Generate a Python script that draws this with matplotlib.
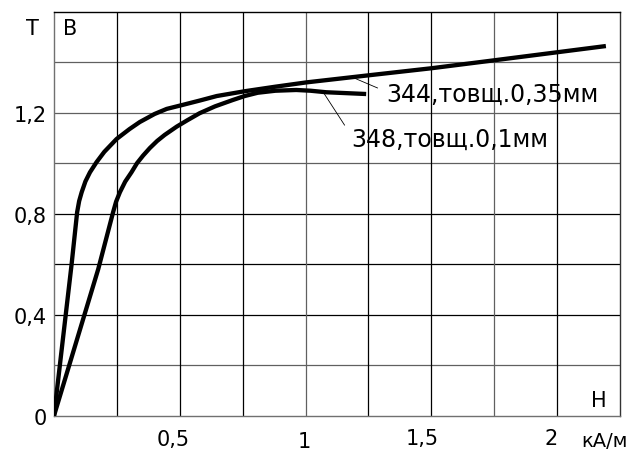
import matplotlib
matplotlib.use("Agg")
import matplotlib.pyplot as plt
import numpy as np

plt.rcParams['font.family'] = ['DejaVu Sans']

# крива 344, товщина 0,35 мм
h_344 = [0, 0.070, 0.092, 0.100, 0.110, 0.125, 0.143, 0.169, 0.20, 0.249, 0.30,
         0.341, 0.40, 0.448, 0.512, 0.579, 0.647, 0.758, 0.88, 1.003, 1.241,
         1.50, 1.73, 2.194]
b_344 = [0, 0.600, 0.806, 0.850, 0.885, 0.928, 0.964, 1.004, 1.045, 1.096, 1.135,
         1.163, 1.195, 1.215, 1.231, 1.248, 1.266, 1.285, 1.303, 1.320, 1.347,
         1.376, 1.405, 1.464]

# крива 348, товщина 0,1 мм
h_348 = [0, 0.176, 0.235, 0.247, 0.262, 0.283, 0.308, 0.33, 0.354, 0.381, 0.41,
         0.44, 0.488, 0.53, 0.579, 0.64, 0.71, 0.758, 0.81, 0.88, 0.963, 1.02,
         1.082, 1.241]
b_348 = [0, 0.581, 0.806, 0.848, 0.885, 0.927, 0.964, 1.000, 1.030, 1.060, 1.088,
         1.112, 1.145, 1.170, 1.198, 1.225, 1.250, 1.266, 1.279, 1.287, 1.290,
         1.287, 1.281, 1.274]

x_grid = np.arange(0, 2.26, 0.25)
y_grid = np.arange(0, 1.61, 0.2)
y_ticks = [0, 0.4, 0.8, 1.2]
y_labels = ["0", "0,4", "0,8", "1,2"]
x_labels = ["0,5", "1", "1,5", "2"]
x_label_pos = [0.472, 0.996, 1.464, 1.978]
x_label_base = [-0.117, -0.124, -0.111, -0.113]

fig = plt.figure(figsize=(6.36, 4.52), dpi=100)
ax = fig.add_axes([0.0849, 0.0781, 0.8899, 0.8938])

ax.set_xlim(0, 2.25)
ax.set_ylim(0, 1.6)

# сітка
gray_h = [0.2, 1.0, 1.2, 1.4]
gray_v = [1.0, 1.75]
for y in y_grid[1:-1]:
    c = '#606060' if any(abs(y - g) < 1e-6 for g in gray_h) else '#000000'
    ax.axhline(y, color=c, lw=0.9, zorder=1)
for x in x_grid[1:-1]:
    c = '#606060' if any(abs(x - g) < 1e-6 for g in gray_v) else '#000000'
    ax.axvline(x, color=c, lw=0.9, zorder=1)

ax.spines['left'].set_color('#707070')
ax.spines['bottom'].set_color('#707070')
ax.spines['top'].set_color('#000000')
ax.spines['right'].set_color('#333333')
for s in ax.spines.values():
    s.set_linewidth(1.0)

ax.set_xticks([])
ax.set_yticks(y_ticks)
ax.set_yticklabels(y_labels, fontsize=15)
ax.tick_params(axis='y', length=0, pad=5)

ax.plot(h_344, b_344, color='black', lw=3.1, solid_capstyle='butt',
        solid_joinstyle='round', zorder=3)
ax.plot(h_348, b_348, color='black', lw=3.1, solid_capstyle='butt',
        solid_joinstyle='round', zorder=3)

# виноски
ax.plot([1.194, 1.286], [1.337, 1.298], color='black', lw=0.6, zorder=3)
ax.plot([1.075, 1.155], [1.274, 1.151], color='black', lw=0.6, zorder=3)
ax.text(1.32, 1.247, "344,товщ.0,35мм", fontsize=17, ha='left', va='baseline')
ax.text(1.181, 1.067, "348,товщ.0,1мм", fontsize=17, ha='left', va='baseline')

# підписи осей
for pos, lab, base in zip(x_label_pos, x_labels, x_label_base):
    ax.text(pos, base, lab, fontsize=15, ha='center', va='baseline', clip_on=False)
ax.text(2.187, -0.121, "кА/м", fontsize=14, ha='center', va='baseline', clip_on=False)
ax.text(-0.087, 1.512, "Т", fontsize=15, ha='center', va='baseline', clip_on=False)
ax.text(0.036, 1.512, "В", fontsize=15, ha='left', va='baseline')
ax.text(2.167, 0.040, "Н", fontsize=15, ha='center', va='baseline')

fig.savefig("out.png", dpi=100)
